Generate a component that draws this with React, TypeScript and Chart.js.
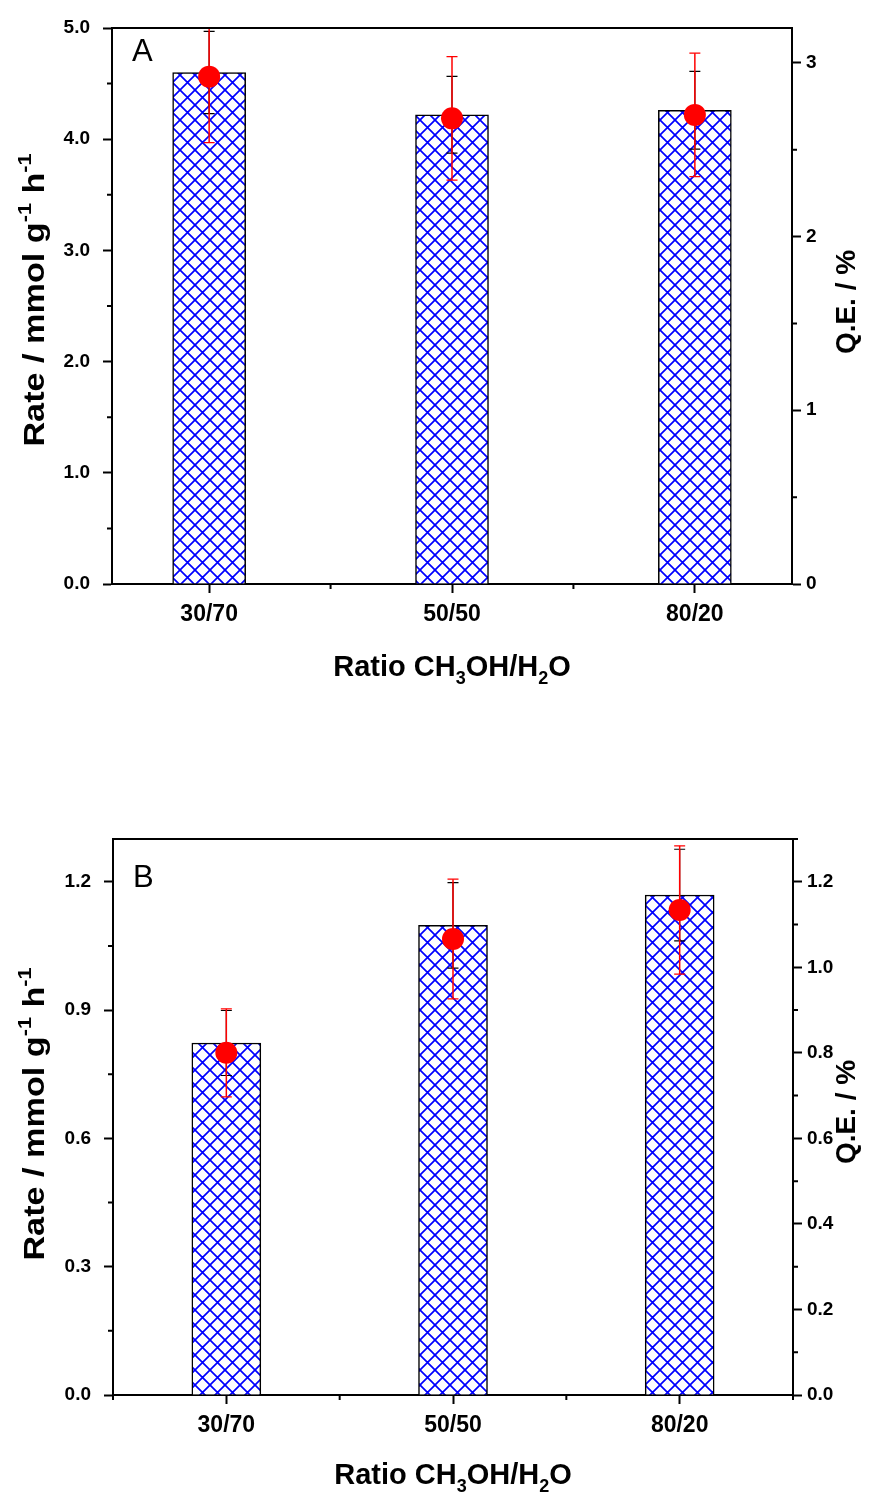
import React, { useEffect, useRef } from 'react';
import { Chart, registerables } from 'chart.js';

Chart.register(...registerables);

// ---------- data ----------
const CATEGORIES = ['30/70', '50/50', '80/20'];
const X_POS = [1, 2, 3];

// Panel A
const RATE_A = [4.6, 4.22, 4.26];
const RATE_A_ERR = [0.37, 0.345, 0.35];
const QE_A = [2.92, 2.68, 2.7];
const QE_A_ERR = [0.38, 0.355, 0.355];

// Panel B
const RATE_B = [0.823, 1.098, 1.169];
const RATE_B_ERR = [0.076, 0.1, 0.107];
const QE_B = [0.8, 1.066, 1.134];
const QE_B_ERR = [0.103, 0.14, 0.15];

// tick settings
const Y_LEFT_A = { min: 0, max: 5, step: 1, minor: 0.5, dec: 1 };
const Y_RIGHT_A = { min: 0, max: 3.2, step: 1, minor: 0.5, dec: 0 };
const Y_LEFT_B = { min: 0, max: 1.3, step: 0.3, minor: 0.15, dec: 1 };
const Y_RIGHT_B = { min: 0, max: 1.3, step: 0.2, minor: 0.1, dec: 1 };

const FONT = "'Liberation Sans', Arial, Helvetica, sans-serif";

type Part = { t: string; s: number };

const X_TITLE: Part[] = [
  { t: 'Ratio CH', s: 0 },
  { t: '3', s: -1 },
  { t: 'OH/H', s: 0 },
  { t: '2', s: -1 },
  { t: 'O', s: 0 },
];
const Y_TITLE: Part[] = [
  { t: 'Rate / mmol g', s: 0 },
  { t: '-1', s: 1 },
  { t: ' h', s: 0 },
  { t: '-1', s: 1 },
];
const Y1_TITLE: Part[] = [{ t: 'Q.E. / %', s: 0 }];

function drawRich(
  ctx: CanvasRenderingContext2D,
  parts: Part[],
  cx: number,
  cy: number,
  size: number,
  rot: number,
  stretch = 1
) {
  ctx.save();
  ctx.translate(cx, cy);
  ctx.rotate(rot);
  ctx.scale(stretch, 1);
  const small = Math.round(size * 0.62);
  let total = 0;
  const widths = parts.map((p) => {
    ctx.font = `bold ${p.s ? small : size}px ${FONT}`;
    const w = ctx.measureText(p.t).width;
    total += w;
    return w;
  });
  let x = -total / 2;
  ctx.fillStyle = '#000';
  ctx.textBaseline = 'alphabetic';
  ctx.textAlign = 'left';
  parts.forEach((p, i) => {
    ctx.font = `bold ${p.s ? small : size}px ${FONT}`;
    const dy = p.s > 0 ? -size * 0.42 : p.s < 0 ? size * 0.28 : 0;
    ctx.fillText(p.t, x, dy);
    x += widths[i];
  });
  ctx.restore();
}

function makePattern(ctx: CanvasRenderingContext2D) {
  const s = 15;
  const c = document.createElement('canvas');
  c.width = s;
  c.height = s;
  const g = c.getContext('2d')!;
  g.fillStyle = '#fff';
  g.fillRect(0, 0, s, s);
  g.strokeStyle = '#0000ff';
  g.lineWidth = 1.7;
  g.beginPath();
  for (const k of [-s, 0, s]) {
    g.moveTo(-2, -2 + k);
    g.lineTo(s + 2, s + 2 + k);
    g.moveTo(s + 2, -2 + k);
    g.lineTo(-2, s + 2 + k);
  }
  g.stroke();
  return ctx.createPattern(c, 'repeat');
}

type PanelOpts = {
  height: number;
  top: number;
  left: number;
  right: number;
  bottom: number;
  xMin: number;
  xMax: number;
  xMinor: number[];
  barW: number;
  rate: number[];
  rateErr: number[];
  qe: number[];
  qeErr: number[];
  yl: typeof Y_LEFT_A;
  yr: typeof Y_RIGHT_A;
  letter: string;
  letterY: number;
  yTitleCY: number;
  y1TitleCY: number;
  xTitleY: number;
};

function buildChart(canvas: HTMLCanvasElement, o: PanelOpts) {
  const ctx0 = canvas.getContext('2d')!;
  const pattern = makePattern(ctx0);

  const plugin = {
    id: 'panelDecor',
    afterDatasetDraw(chart: any, args: any) {
      if (args.index !== 0) return;
      const { ctx, chartArea, scales } = chart;
      ctx.save();
      ctx.beginPath();
      ctx.rect(chartArea.left, chartArea.top, chartArea.right - chartArea.left, chartArea.bottom - chartArea.top);
      ctx.clip();
      // black error bars (rate)
      for (let i = 0; i < X_POS.length; i++) {
        const px = scales.x.getPixelForValue(X_POS[i]);
        const yt = scales.y.getPixelForValue(o.rate[i] + o.rateErr[i]);
        const yb = scales.y.getPixelForValue(o.rate[i] - o.rateErr[i]);
        ctx.strokeStyle = '#000';
        ctx.lineWidth = 1.2;
        ctx.beginPath();
        ctx.moveTo(px, yt);
        ctx.lineTo(px, yb);
        ctx.moveTo(px - 5.5, yt);
        ctx.lineTo(px + 5.5, yt);
        ctx.moveTo(px - 5.5, yb);
        ctx.lineTo(px + 5.5, yb);
        ctx.stroke();
      }
      // red error bars (QE)
      for (let i = 0; i < X_POS.length; i++) {
        const px = scales.x.getPixelForValue(X_POS[i]);
        const yt = scales.y1.getPixelForValue(o.qe[i] + o.qeErr[i]);
        const yb = scales.y1.getPixelForValue(o.qe[i] - o.qeErr[i]);
        ctx.strokeStyle = '#ff0000';
        ctx.lineWidth = 1.5;
        ctx.beginPath();
        ctx.moveTo(px, yt);
        ctx.lineTo(px, yb);
        ctx.stroke();
        ctx.lineWidth = 1.3;
        ctx.beginPath();
        ctx.moveTo(px - 5.5, yt);
        ctx.lineTo(px + 5.5, yt);
        ctx.moveTo(px - 5.5, yb);
        ctx.lineTo(px + 5.5, yb);
        ctx.stroke();
      }
      ctx.restore();
    },
    afterDraw(chart: any) {
      const { ctx, chartArea, scales } = chart;
      ctx.save();
      ctx.strokeStyle = '#000';
      ctx.lineWidth = 2;
      // top border
      ctx.beginPath();
      ctx.moveTo(chartArea.left - 1, chartArea.top);
      ctx.lineTo(chartArea.right + 1, chartArea.top);
      ctx.stroke();
      // minor ticks
      const ml = 5;
      ctx.beginPath();
      for (let v = o.yl.min + o.yl.minor; v < o.yl.max + 1e-9; v += o.yl.step) {
        const py = scales.y.getPixelForValue(v);
        if (py < chartArea.top - 0.5) continue;
        ctx.moveTo(chartArea.left, py);
        ctx.lineTo(chartArea.left - ml, py);
      }
      for (let v = o.yr.min + o.yr.minor; v < o.yr.max + 1e-9; v += o.yr.step) {
        const py = scales.y1.getPixelForValue(v);
        if (py < chartArea.top - 0.5) continue;
        ctx.moveTo(chartArea.right, py);
        ctx.lineTo(chartArea.right + ml, py);
      }
      for (const v of o.xMinor) {
        const px = scales.x.getPixelForValue(v);
        ctx.moveTo(px, chartArea.bottom);
        ctx.lineTo(px, chartArea.bottom + ml);
      }
      ctx.stroke();
      // panel letter
      ctx.fillStyle = '#000';
      ctx.font = `31px ${FONT}`;
      ctx.textAlign = 'left';
      ctx.textBaseline = 'alphabetic';
      ctx.fillText(o.letter, chartArea.left + 20, o.letterY);
      // titles
      const cxm = (chartArea.left + chartArea.right) / 2;
      drawRich(ctx, X_TITLE, cxm, o.xTitleY, 29, 0);
      drawRich(ctx, Y_TITLE, 44, o.yTitleCY, 30, -Math.PI / 2, 1.14);
      drawRich(ctx, Y1_TITLE, 855, o.y1TitleCY, 28, -Math.PI / 2);
      ctx.restore();
    },
  };

  const tickGrid = {
    display: true,
    drawOnChartArea: false,
    drawTicks: true,
    tickLength: 9,
    tickWidth: 2,
    tickColor: '#000',
  };

  return new Chart(canvas, {
    type: 'bar',
    data: {
      datasets: [
        {
          type: 'bar',
          label: 'Rate',
          data: X_POS.map((x, i) => ({ x, y: o.rate[i] })),
          backgroundColor: pattern as any,
          borderColor: '#000',
          borderWidth: 1.5,
          borderSkipped: 'bottom',
          barThickness: o.barW,
          xAxisID: 'x',
          yAxisID: 'y',
          order: 2,
        } as any,
        {
          type: 'line',
          label: 'Q.E.',
          data: X_POS.map((x, i) => ({ x, y: o.qe[i] })),
          showLine: false,
          pointRadius: 11,
          pointBackgroundColor: '#ff0000',
          pointBorderColor: '#ff0000',
          pointBorderWidth: 0,
          xAxisID: 'x',
          yAxisID: 'y1',
          order: 1,
        } as any,
      ],
    },
    options: {
      responsive: false,
      maintainAspectRatio: false,
      animation: false,
      devicePixelRatio: 1,
      layout: { padding: { top: o.top, left: 0, right: 0, bottom: 0 } },
      plugins: { legend: { display: false }, tooltip: { enabled: false }, title: { display: false } },
      scales: {
        x: {
          type: 'linear',
          position: 'bottom',
          min: o.xMin,
          max: o.xMax,
          offset: false,
          grid: { ...tickGrid, offset: false },
          border: { display: true, width: 2, color: '#000' },
          afterBuildTicks: (s: any) => {
            s.ticks = X_POS.map((v) => ({ value: v }));
          },
          ticks: {
            stepSize: 1,
            includeBounds: false,
            autoSkip: false,
            maxRotation: 0,
            padding: 8,
            color: '#000',
            font: { family: FONT, size: 23, weight: 'bold' },
            callback: (v: any) => {
              const idx = X_POS.indexOf(Number(v));
              return idx >= 0 ? CATEGORIES[idx] : '';
            },
          },
          afterFit: (s: any) => {
            s.height = o.height - o.bottom;
          },
        },
        y: {
          type: 'linear',
          position: 'left',
          min: o.yl.min,
          max: o.yl.max,
          grid: tickGrid,
          border: { display: true, width: 2, color: '#000' },
          ticks: {
            stepSize: o.yl.step,
            includeBounds: false,
            padding: 13,
            color: '#000',
            font: { family: FONT, size: 19, weight: 'bold' },
            callback: (v: any) => Number(v).toFixed(o.yl.dec),
          },
          afterFit: (s: any) => {
            s.width = o.left;
          },
        },
        y1: {
          type: 'linear',
          position: 'right',
          min: o.yr.min,
          max: o.yr.max,
          grid: tickGrid,
          border: { display: true, width: 2, color: '#000' },
          ticks: {
            stepSize: o.yr.step,
            includeBounds: false,
            padding: 5,
            color: '#000',
            font: { family: FONT, size: 19, weight: 'bold' },
            callback: (v: any) => Number(v).toFixed(o.yr.dec),
          },
          afterFit: (s: any) => {
            s.width = 875 - o.right;
          },
        },
      },
    } as any,
    plugins: [plugin],
  });
}

const PANEL_A: PanelOpts = {
  height: 740,
  top: 28,
  left: 112,
  right: 792,
  bottom: 584,
  xMin: 0.6,
  xMax: 3.4,
  xMinor: [1.5, 2.5],
  barW: 73,
  rate: RATE_A,
  rateErr: RATE_A_ERR,
  qe: QE_A,
  qeErr: QE_A_ERR,
  yl: Y_LEFT_A,
  yr: Y_RIGHT_A,
  letter: 'A',
  letterY: 61,
  yTitleCY: 300,
  y1TitleCY: 302,
  xTitleY: 676,
};

const PANEL_B: PanelOpts = {
  height: 755,
  top: 99,
  left: 113,
  right: 793,
  bottom: 655,
  xMin: 0.5,
  xMax: 3.5,
  xMinor: [0.5, 1.5, 2.5, 3.5],
  barW: 69,
  rate: RATE_B,
  rateErr: RATE_B_ERR,
  qe: QE_B,
  qeErr: QE_B_ERR,
  yl: Y_LEFT_B,
  yr: Y_RIGHT_B,
  letter: 'B',
  letterY: 147,
  yTitleCY: 374,
  y1TitleCY: 372,
  xTitleY: 744,
};

function Panel({ opts, top }: { opts: PanelOpts; top: number }) {
  const ref = useRef<HTMLCanvasElement>(null);
  useEffect(() => {
    if (!ref.current) return;
    const chart = buildChart(ref.current, opts);
    return () => chart.destroy();
  }, [opts]);
  return (
    <canvas
      ref={ref}
      width={875}
      height={opts.height}
      style={{ position: 'absolute', left: 0, top, width: 875, height: opts.height, display: 'block' }}
    />
  );
}

export default function App() {
  return (
    <div style={{ position: 'absolute', left: 0, top: 0, width: 875, height: 1495, background: '#fff' }}>
      <Panel opts={PANEL_A} top={0} />
      <Panel opts={PANEL_B} top={740} />
    </div>
  );
}
